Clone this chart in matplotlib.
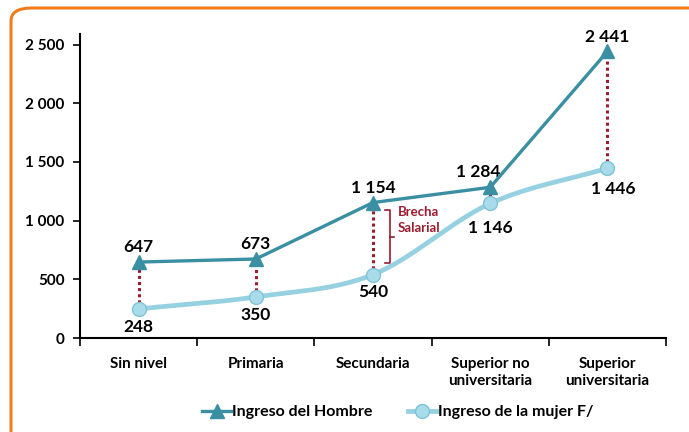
import numpy as np
import matplotlib
matplotlib.use("Agg")
import matplotlib.pyplot as plt
from matplotlib.patches import FancyBboxPatch
from matplotlib.lines import Line2D

categories = ["Sin nivel", "Primaria", "Secundaria", "Superior no\nuniversitaria", "Superior\nuniversitaria"]
hombre = [647, 673, 1154, 1284, 2441]
mujer = [248, 350, 540, 1146, 1446]
yticks = [0, 500, 1000, 1500, 2000, 2500]

def fmt(v):
    return f"{v:,}".replace(",", " ")

plt.rcParams['font.family'] = ['Lato', 'DejaVu Sans']
plt.rcParams['font.weight'] = 'bold'

fig = plt.figure(figsize=(6.89, 4.32), dpi=100)
# orange rounded border (extends past right and bottom edges)
border = FancyBboxPatch((11/689, -0.2), 1.2, 1 - 8/432 + 0.2,
                        boxstyle="round,pad=0,rounding_size=0.03",
                        transform=fig.transFigure, fill=False,
                        edgecolor="#F07D1A", linewidth=2.2, clip_on=False)
fig.patches.append(border)

ax = fig.add_axes([80/689, 1 - 338/432, (666 - 80)/689, (338 - 34)/432])
x = np.arange(len(categories))
ax.set_xlim(-0.5, len(categories) - 0.5)
ax.set_ylim(0, 2590)

c_h = "#3A8FA3"
c_m = "#96D1E1"
c_red = "#9B1B30"

# dotted gap lines
for xi, h, m in zip(x, hombre, mujer):
    ax.plot([xi, xi], [m, h], linestyle=(0, (1, 1)), color=c_red, lw=2.2, zorder=2)

# smooth curve for mujer (Catmull-Rom in scaled space)
sx, sy = 117.0, 293.0 / 2500.0
P = np.column_stack([x * sx, np.array(mujer) * sy])
P_ext = np.vstack([2 * P[0] - P[1], P, 2 * P[-1] - P[-2]])
curve = []
for i in range(1, len(P_ext) - 2):
    p0, p1, p2, p3 = P_ext[i - 1], P_ext[i], P_ext[i + 1], P_ext[i + 2]
    t = np.linspace(0, 1, 40)[:, None]
    seg = 0.5 * ((2 * p1) + (-p0 + p2) * t + (2 * p0 - 5 * p1 + 4 * p2 - p3) * t**2
                 + (-p0 + 3 * p1 - 3 * p2 + p3) * t**3)
    curve.append(seg)
curve = np.vstack(curve)
ax.plot(curve[:, 0] / sx, curve[:, 1] / sy, color=c_m, lw=3.4, zorder=3, solid_capstyle='round')
ax.plot(x, mujer, linestyle='none', marker='o', ms=10, mfc="#A8DCEA", mec="#7FC4D6", mew=1.0, zorder=5)

ax.plot(x, hombre, color=c_h, lw=2.4, marker='^', ms=10, mfc=c_h, mec=c_h, zorder=4)

# data labels
h_off = [(0, 5), (0, 5), (0, 5), (-9, 5), (0, 5)]
for xi, v, off in zip(x, hombre, h_off):
    ax.annotate(fmt(v), (xi, v), xytext=off, textcoords='offset points',
                ha='center', va='bottom', fontsize=12.5, fontweight='bold', color='black')
m_off = [(0, -7), (0, -7), (0, -7), (0, -12), (4, -9)]
for xi, v, off in zip(x, mujer, m_off):
    ax.annotate(fmt(v), (xi, v), xytext=off, textcoords='offset points',
                ha='center', va='top', fontsize=12.5, fontweight='bold', color='black')

# bracket "Brecha Salarial"
bx = 2 + (390 - 373) / 117
bx0 = 2 + (385 - 373) / 117
bx1 = 2 + (394 - 373) / 117
y_top = (338 - 210) / 293 * 2500
y_bot = (338 - 263) / 293 * 2500
y_mid = (338 - 237) / 293 * 2500
ax.plot([bx0, bx, bx, bx0], [y_top, y_top, y_bot, y_bot], color=c_red, lw=1.2, zorder=2)
ax.plot([bx, bx1], [y_mid, y_mid], color=c_red, lw=1.2, zorder=2)
ax.text(2 + (398 - 373) / 117, y_top + 35, "Brecha\nSalarial", color=c_red, fontsize=9.5,
        fontweight='bold', ha='left', va='top', linespacing=1.45)

ax.set_yticks(yticks)
ax.set_yticklabels([fmt(v) for v in yticks], fontsize=11, fontweight='bold')
ax.set_xticks(x)
ax.set_xticklabels(categories, fontsize=11, fontweight='bold', linespacing=1.2)
ax.set_xticks(np.arange(-0.5, len(categories)), minor=True)
ax.tick_params(axis='x', which='major', length=0, pad=14)
ax.tick_params(axis='x', which='minor', length=6, width=1.2, direction='out')
ax.tick_params(axis='y', length=5, width=1.2, direction='out', pad=6)
for s in ['top', 'right']:
    ax.spines[s].set_visible(False)
for s in ['left', 'bottom']:
    ax.spines[s].set_linewidth(1.5)

handles = [Line2D([], [], color=c_h, lw=2.4, marker='^', ms=10, mfc=c_h, mec=c_h),
           Line2D([], [], color=c_m, lw=3.4, marker='o', ms=10, mfc="#A8DCEA", mec="#7FC4D6")]
fig.legend(handles, ["Ingreso del Hombre", "Ingreso de la mujer F/"], loc='center',
           bbox_to_anchor=(398/689, 1 - 412/432), ncol=2, frameon=False,
           handlelength=1.8, handletextpad=0.1, columnspacing=2.2,
           prop={'weight': 'bold', 'size': 11.5})

fig.savefig("out.png", dpi=100)
